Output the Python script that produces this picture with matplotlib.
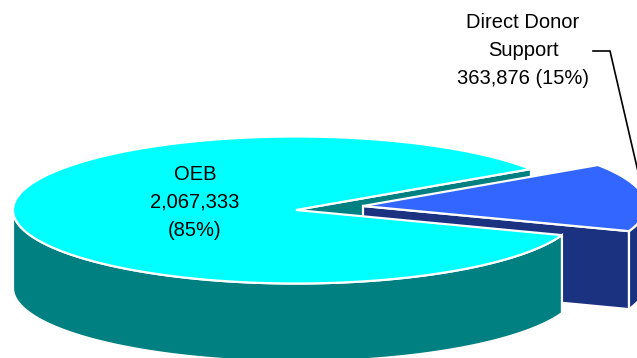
import numpy as np
import matplotlib
matplotlib.use("Agg")
import matplotlib.pyplot as plt
from matplotlib.patches import Polygon

plt.rcParams['font.family'] = ['Liberation Sans', 'DejaVu Sans']

# data
names = ["OEB", "Direct Donor Support"]
amounts = [2067333, 363876]
percents = [85, 15]

# colours: top, wall
OEB_TOP, OEB_WALL = "#00FFFF", "#008080"
DONOR_TOP, DONOR_WALL = "#3366FF", "#1B3280"

# pie geometry in pixels
CX, CY = 296, 210
RX, RY = 283, 73.5
DEPTH = 78
EXPLODE = (67, -4)
START = -20  # ellipse angle where the donor slice begins
EDGE = 1.6

span = 360 * amounts[1] / sum(amounts)
donor_a, donor_b = START, START + span
oeb_a, oeb_b = donor_b, START + 360


def arc(a, b, cx=CX, cy=CY, drop=0):
    t = np.radians(np.linspace(a, b, 200))
    return np.column_stack([cx + RX * np.cos(t), cy - RY * np.sin(t) + drop])


def wall(a, b, cx=CX, cy=CY):
    return np.vstack([arc(a, b, cx, cy), arc(a, b, cx, cy, DEPTH)[::-1]])


def radial_wall(angle, cx=CX, cy=CY):
    rim = arc(angle, angle, cx, cy)[0]
    return np.array([[cx, cy], rim, rim + [0, DEPTH], [cx, cy + DEPTH]])


def top(a, b, cx=CX, cy=CY):
    return np.vstack([[cx, cy], arc(a, b, cx, cy)])


def add(ax, pts, color):
    ax.add_patch(Polygon(pts, closed=True, facecolor=color, edgecolor="white",
                         linewidth=EDGE, joinstyle="miter"))


fig = plt.figure(figsize=(6.37, 3.58), dpi=100)
ax = fig.add_axes([0, 0, 1, 1])
ax.set_xlim(0, 637)
ax.set_ylim(358, 0)
ax.axis("off")

dx, dy = CX + EXPLODE[0], CY + EXPLODE[1]

# back to front
add(ax, radial_wall(oeb_a), OEB_WALL)
add(ax, wall(donor_a, 0, dx, dy), DONOR_WALL)
add(ax, radial_wall(donor_a, dx, dy), DONOR_WALL)
add(ax, top(donor_a, donor_b, dx, dy), DONOR_TOP)
add(ax, wall(180, oeb_b), OEB_WALL)
add(ax, top(oeb_a, oeb_b), OEB_TOP)

# labels
FS = 14.5
oeb_lines = [names[0], f"{amounts[0]:,}", f"({percents[0]}%)"]
for line, y in zip(oeb_lines, [174, 202, 230]):
    ax.text(195, y, line, ha="center", va="center", fontsize=FS, color="black")

donor_lines = ["Direct Donor", "Support", f"{amounts[1]:,} ({percents[1]}%)"]
for line, y in zip(donor_lines, [23, 51, 79]):
    ax.text(523, y, line, ha="center", va="center", fontsize=FS, color="black")

# leader line to the middle of the donor rim
target = arc((donor_a + donor_b) / 2, (donor_a + donor_b) / 2, dx, dy)[0]
ax.plot([593, 610, target[0]], [51, 51, target[1]], color="black", linewidth=1.2,
        solid_joinstyle="miter")

fig.savefig("out.png", dpi=100)
